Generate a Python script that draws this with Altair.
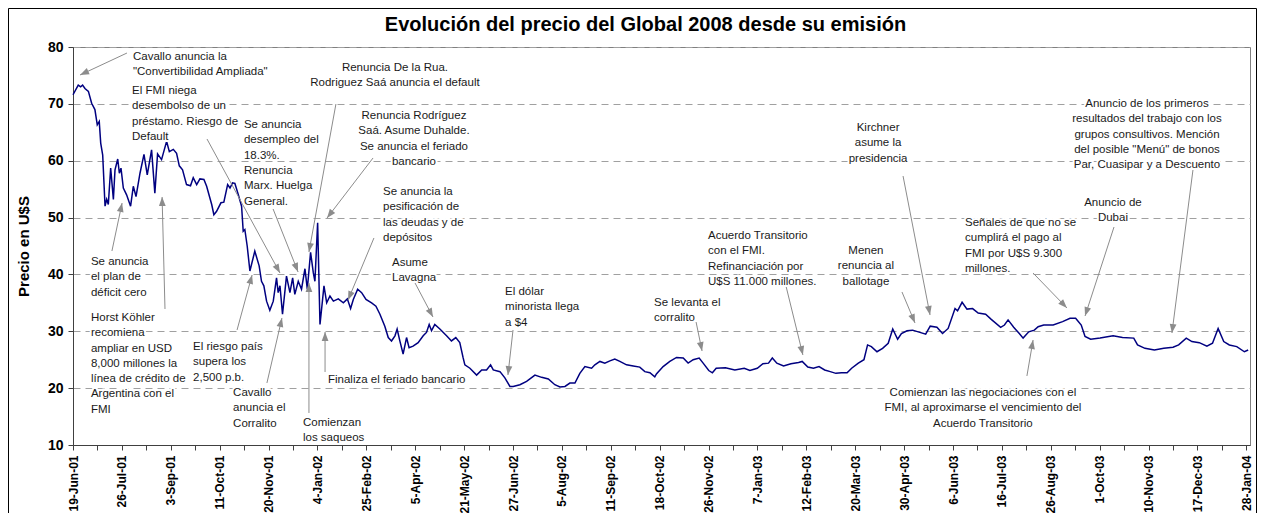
import json
import math
import altair as alt
import pandas as pd

FONT = "Liberation Sans"
TITLE = "Evolución del precio del Global 2008 desde su emisión"
Y_TITLE = "Precio en U$S"

TICK_LABELS = ["19-Jun-01", "26-Jul-01", "3-Sep-01", "11-Oct-01", "20-Nov-01", "4-Jan-02",
               "25-Feb-02", "5-Apr-02", "21-May-02", "27-Jun-02", "5-Aug-02", "11-Sep-02",
               "18-Oct-02", "26-Nov-02", "7-Jan-03", "12-Feb-03", "20-Mar-03", "30-Apr-03",
               "6-Jun-03", "16-Jul-03", "26-Aug-03", "1-Oct-03", "10-Nov-03", "17-Dec-03",
               "28-Jan-04"]
DAYS_PER_LABEL = 27  # trading days between labelled ticks

# ---- price series (trading-day index, price in U$S) ----
day_idx = [0, 2.9, 4.2, 5.3, 6.6, 8.5, 10.3, 12.1, 13.4, 14.5, 15.3, 16.4, 17.7, 18.6, 19.5,
           20.8, 22.3, 23.2, 24.7, 25.6, 26.5, 27.8, 29.6, 31.8, 33.3, 34.8, 37.0, 39.2, 41.0,
           43.4, 45.2, 46.7, 48.9, 51.7, 53.2, 55.4, 57.2, 58.7, 60.5, 62.7, 64.9, 66.4, 68.3,
           70.1, 72.3, 73.8, 76.6, 77.8, 79.3, 81.7, 83.3, 85.4, 86.7, 88.1, 89.4, 91.3, 93.1,
           94.0, 94.9, 96.2, 97.7, 100.4, 102.8, 104.1, 105.4, 106.9, 108.7, 110.6, 112.4, 113.3,
           114.3, 115.7, 117.9, 119.8, 121.3, 122.5, 124.4, 126.2, 128.1, 129.4, 131.2, 132.7,
           133.6, 135.1, 136.4, 138.6, 140.1, 141.9, 143.8, 146.5, 149.3, 151.5, 153.3, 154.8,
           157.2, 159.4, 161.8, 164.9, 167.3, 169.5, 172.2, 174.1, 175.9, 177.8, 179.0, 180.5,
           182.3, 184.2, 185.6, 187.8, 190.6, 193.4, 195.2, 196.7, 198.0, 199.8, 202.6, 206.3,
           209.0, 211.4, 213.6, 215.4, 216.4, 219.2, 222.9, 225.7, 228.4, 230.6, 232.1, 235.8,
           238.5, 241.3, 243.1, 246.8, 250.5, 255.1, 258.8, 262.5, 266.1, 268.9, 271.7, 274.4,
           277.2, 279.9, 282.7, 286.4, 288.2, 291.0, 293.7, 296.5, 299.2, 302.0, 305.7, 309.4,
           313.0, 315.8, 318.6, 321.3, 322.2, 325.9, 329.6, 333.3, 337.0, 339.7, 342.5, 345.8,
           348.0, 351.1, 353.1, 355.2, 360.3, 365.5, 370.7, 373.8, 377.9, 381.0, 384.1, 386.2,
           388.7, 392.4, 396.5, 400.7, 402.7, 405.8, 408.9, 412.0, 415.1, 418.2, 421.3, 424.4,
           427.5, 430.0, 433.7, 436.8, 438.8, 440.9, 444.0, 447.1, 450.2, 452.7, 455.4, 457.5,
           460.6, 463.7, 466.8, 470.9, 473.4, 477.1, 480.2, 483.3, 487.1, 488.5, 491.0, 493.7,
           496.8, 499.9, 504.0, 507.1, 512.3, 514.4, 516.4, 519.5, 522.6, 524.7, 527.8, 530.9,
           533.0, 536.1, 541.3, 546.5, 550.6, 553.7, 556.8, 558.9, 562.0, 567.2, 574.4, 579.6,
           585.8, 587.9, 592.0, 597.2, 602.4, 607.5, 610.6, 614.8, 617.9, 622.0, 626.2, 629.3,
           632.4, 635.5, 638.6, 642.7, 646.9, 649.0]
price = [71.6, 73.3, 73.0, 73.3, 72.7, 72.2, 70.1, 69.0, 66.3, 66.9, 63.1, 61.0, 52.0, 53.2, 52.3,
         58.7, 53.2, 58.4, 60.3, 57.8, 58.7, 55.2, 54.0, 52.0, 55.5, 53.7, 57.8, 61.1, 57.5,
         61.9, 54.3, 61.2, 60.2, 63.4, 61.6, 62.0, 61.3, 59.1, 58.4, 55.8, 55.6, 57.0, 55.8,
         56.8, 56.7, 55.5, 52.3, 50.5, 51.1, 52.6, 52.7, 55.8, 55.2, 56.1, 56.0, 54.0, 52.0,
         47.6, 47.9, 45.0, 40.6, 44.1, 41.5, 38.8, 38.0, 35.3, 33.7, 35.3, 39.4, 36.8,
         38.0, 33.0, 39.7, 36.8, 39.4, 36.5, 38.8, 37.4, 41.0, 37.4, 43.9, 40.3,
         38.8, 49.1, 31.2, 38.0, 35.0, 36.2, 35.3, 35.7, 35.0, 35.7, 34.0, 35.6,
         37.4, 36.8, 35.6, 35.0, 34.4, 33.0, 30.9, 28.9, 28.3, 29.2, 30.4, 28.3,
         26.0, 28.9, 27.1, 27.4, 28.0, 29.2, 29.8, 31.2, 30.1, 31.2, 30.4, 29.2,
         28.3, 28.9, 28.0, 25.4, 24.1, 23.5, 22.3, 23.2, 23.2, 24.1, 23.2, 22.9,
         21.8, 20.3, 20.3, 20.6, 21.2, 22.3, 21.9, 21.6, 20.6, 20.2, 20.3, 20.9,
         20.9, 22.6, 23.8, 23.5, 24.1, 24.7, 24.4, 24.8, 25.1, 24.7, 24.1, 23.9,
         23.7, 22.9, 22.7, 22.0, 22.5, 23.8, 24.7, 25.4, 25.3, 24.4, 25.0, 25.3,
         24.4, 23.1, 22.7, 23.5, 23.6, 23.2, 23.5, 23.1, 23.5, 24.3, 24.4, 25.3,
         24.4, 23.9, 24.3, 24.5, 24.7, 23.7, 23.5, 23.8, 23.2, 22.9, 22.6, 22.7,
         22.7, 23.5, 24.4, 25.0, 27.6, 27.3, 26.4, 27.0, 27.9, 30.4, 28.6, 29.6,
         30.1, 30.2, 29.9, 29.5, 30.9, 30.7, 29.6, 30.5, 34.0, 33.6, 35.1, 33.9,
         34.0, 33.2, 33.0, 32.1, 30.7, 31.1, 32.0, 30.7, 29.6, 28.8, 29.9, 30.2,
         30.8, 31.1, 31.1, 31.7, 32.3, 32.3, 31.1, 29.1, 28.6, 28.8, 29.2, 28.9,
         28.8, 27.6, 27.0, 26.7, 27.0, 27.2, 27.6, 28.8, 28.2, 28.0, 27.4, 27.9,
         30.5, 28.2, 27.6, 27.3, 26.4, 26.7]

# ---- annotations (positions in data units: trading-day index / price) ----
ann_text = [
    "Cavallo anuncia la\n\"Convertibilidad Ampliada\"",
    "El FMI niega\ndesembolso  de un\npréstamo. Riesgo de\nDefault",
    "Se anuncia\ndesempleo del\n18.3%.\nRenuncia\nMarx. Huelga\nGeneral.",
    "Renuncia De la Rua.\nRodriguez Saá anuncia el default",
    "Renuncia Rodríguez\nSaá. Asume Duhalde.\nSe anuncia el feriado\nbancario",
    "Se anuncia la\npesificación de\nlas deudas y de\ndepósitos",
    "Asume\nLavagna",
    "El dólar\nminorista llega\na $4",
    "Se levanta el\ncorralito",
    "Acuerdo Transitorio\ncon el FMI.\nRefinanciación  por\nU$S 11.000 millones.",
    "Menen\nrenuncia al\nballotage",
    "Kirchner\nasume la\npresidencia",
    "Señales de que no se\ncumplirá el pago al\nFMI por U$S 9.300\nmillones.",
    "Anuncio de\nDubai",
    "Anuncio de los primeros\nresultados del trabajo con los\ngrupos consultivos. Mención\ndel posible \"Menú\" de bonos\nPar, Cuasipar y a Descuento",
    "Comienzan las negociaciones con el\nFMI, al aproximarse el vencimiento del\nAcuerdo Transitorio",
    "Se anuncia\nel plan de\ndéficit cero",
    "Horst Köhler\nrecomiena\nampliar en USD\n8,000 millones la\nlínea de crédito de\nArgentina con el\nFMI",
    "El riesgo país\nsupera los\n2,500 p.b.",
    "Cavallo\nanuncia el\nCorralito",
    "Comienzan\nlos saqueos",
    "Finaliza el feriado bancario",
]
ann_x = [33.1, 32.6, 94.4, 177.8, 188.3, 171.2, 176.2, 238.6, 320.9, 350.7, 437.9, 444.6,
         492.6, 574.3, 593.1, 502.5, 9.9, 9.9, 66.3, 88.4, 127.0, 140.8]
ann_y = [78.24, 72.26, 66.28, 76.31, 67.86, 54.50, 42.01, 36.91, 34.98, 46.76, 44.12, 65.75,
         49.05, 52.56, 69.97, 19.15, 42.19, 32.34, 27.24, 19.15, 13.87, 21.43]
ann_align = ["left", "left", "left", "center", "center", "left", "left", "left", "left", "left",
             "center", "center", "left", "center", "center", "center", "left", "left", "left",
             "left", "left", "left"]
tail_x = [29.8, 74.0, 110.5, 145.2, 165.7, 166.2, 188.9, 243.0, 344.1, 393.2, 457.8, 458.4,
          530.2, 574.9, 618.5, 526.8, 21.5, 50.8, 90.6, 107.1, 130.3, 139.2]
tail_y = [78.94, 63.82, 51.51, 69.97, 60.48, 46.41, 38.49, 30.23, 31.63, 38.67, 36.91, 57.31,
          40.25, 48.34, 58.37, 22.14, 44.12, 33.92, 30.23, 20.91, 15.63, 22.84]
tip_x = [3.9, 114.3, 124.3, 130.3, 140.3, 151.9, 198.8, 240.2, 347.4, 403.1, 465.0, 473.3,
         548.9, 558.9, 606.9, 530.2, 27.1, 49.2, 98.9, 115.4, 130.3, 139.2]
tip_y = [75.08, 40.25, 40.43, 43.94, 49.92, 35.50, 32.51, 22.31, 26.53, 25.83, 31.46, 32.86,
         34.10, 32.69, 29.70, 28.47, 52.56, 53.62, 39.90, 32.34, 38.49, 29.88]

# ---- layout / style ----
W, H = 1177, 398
X_MAX = 650
Y_LO, Y_HI = 10, 80
PX_X = W / X_MAX
PX_Y = H / (Y_HI - Y_LO)
LINE_PX = 15.3
PAD = {"left": 65, "top": 39, "right": 7, "bottom": 68}
NAVY = "#000080"
ARROW = "#8c8c8c"
TXT = "#1a1a1a"
ANN_SIZE = 11.5

series = pd.DataFrame({"x": day_idx, "y": price})

rows_l, rows_c = [], []
for txt, x, y, al in zip(ann_text, ann_x, ann_y, ann_align):
    for i, ln in enumerate(txt.split("\n")):
        r = {"x": x, "y": y - i * LINE_PX / PX_Y, "t": ln}
        (rows_l if al == "left" else rows_c).append(r)
txt_l = pd.DataFrame(rows_l)
txt_c = pd.DataFrame(rows_c)

arrows = pd.DataFrame({"x": tail_x, "y": tail_y, "x2": tip_x, "y2": tip_y})
angles = []
for x0, y0, x1, y1 in zip(tail_x, tail_y, tip_x, tip_y):
    dxp = (x1 - x0) * PX_X
    dyp = -(y1 - y0) * PX_Y
    angles.append(math.degrees(math.atan2(dxp, -dyp)) % 360)
heads = pd.DataFrame({"x": tip_x, "y": tip_y, "angle": angles})

xs = alt.Scale(domain=[0, X_MAX], nice=False, zero=False)
ys = alt.Scale(domain=[Y_LO, Y_HI], nice=False, zero=False)

tick_vals = [k * DAYS_PER_LABEL / 2 for k in range(2 * (len(TICK_LABELS) - 1) + 1)]
label_expr = ("datum.value % " + str(DAYS_PER_LABEL) + " === 0 ? " + json.dumps(TICK_LABELS)
              + "[round(datum.value / " + str(DAYS_PER_LABEL) + ")] : ''")

X_AXIS = alt.Axis(
    values=tick_vals, labelExpr=label_expr, labelAngle=-90, labelFontSize=12,
    labelFontWeight="bold", labelColor="black", labelFont=FONT, grid=False, tickSize=5,
    labelPadding=5, labelFlush=False, labelOverlap=False, title=None,
    domainColor="#404040", tickColor="#404040")
Y_AXIS = alt.Axis(
    values=list(range(Y_LO, Y_HI + 1, 10)), labelFontSize=14, labelFontWeight="bold",
    labelColor="black", labelFont=FONT, title=Y_TITLE, titleFontSize=15,
    titleFontWeight="bold", titleColor="black", titleFont=FONT, titlePadding=16,
    grid=True, gridDash=[7, 5], gridColor="#a0a0a0", tickSize=5, labelPadding=5,
    domainColor="#404040", tickColor="#404040")


def X():
    return alt.X("x:Q", scale=xs, axis=X_AXIS)


def Y():
    return alt.Y("y:Q", scale=ys, axis=Y_AXIS)


line = alt.Chart(series).mark_line(color=NAVY, strokeWidth=1.5).encode(x=X(), y=Y())

arrow_lines = alt.Chart(arrows).mark_rule(color=ARROW, strokeWidth=1).encode(
    x=X(), y=Y(), x2="x2:Q", y2="y2:Q")

arrow_heads = alt.Chart(heads).mark_point(
    shape="M0,0L-0.45,1.2L0.45,1.2Z", filled=True, size=225, color=ARROW, opacity=1,
    strokeWidth=0).encode(x=X(), y=Y(), angle=alt.Angle("angle:Q", scale=None))


def text_layers(df, align):
    base = alt.Chart(df).encode(x=X(), y=Y(), text="t:N")
    halo = base.mark_text(align=align, baseline="middle", font=FONT, fontSize=ANN_SIZE,
                          color="white", stroke="white", strokeWidth=4)
    txt = base.mark_text(align=align, baseline="middle", font=FONT, fontSize=ANN_SIZE,
                         color=TXT)
    return [halo, txt]


one = pd.DataFrame({"a": [0]})
fx0 = -PAD["left"] + 0.5
fy0 = -PAD["top"] + 0.5
fx1 = W + PAD["right"] - 0.5
fy1 = H + PAD["bottom"]
frame_l = alt.Chart(one).mark_rule(color="black", strokeWidth=1).encode(
    x=alt.value(fx0), y=alt.value(fy0), y2=alt.value(fy1))
frame_t = alt.Chart(one).mark_rule(color="black", strokeWidth=1).encode(
    x=alt.value(fx0), x2=alt.value(fx1), y=alt.value(fy0))
frame_r = alt.Chart(one).mark_rule(color="black", strokeWidth=1).encode(
    x=alt.value(fx1), y=alt.value(fy0), y2=alt.value(fy1))

layers = [line, arrow_lines, arrow_heads] + text_layers(txt_l, "left") + \
    text_layers(txt_c, "center") + [frame_l, frame_t, frame_r]

chart = alt.layer(*layers).properties(
    width=W, height=H, padding=PAD, autosize=alt.AutoSizeParams(type="none"),
    background="white",
    title=alt.Title(TITLE, fontSize=20, fontWeight="bold", font=FONT, color="black",
                    anchor="middle", frame="group", baseline="alphabetic", offset=0,
                    dx=-16, dy=43),
).configure_view(stroke="#808080", strokeWidth=1)

chart.save("out.html", embed_options={"renderer": "svg", "actions": False})
